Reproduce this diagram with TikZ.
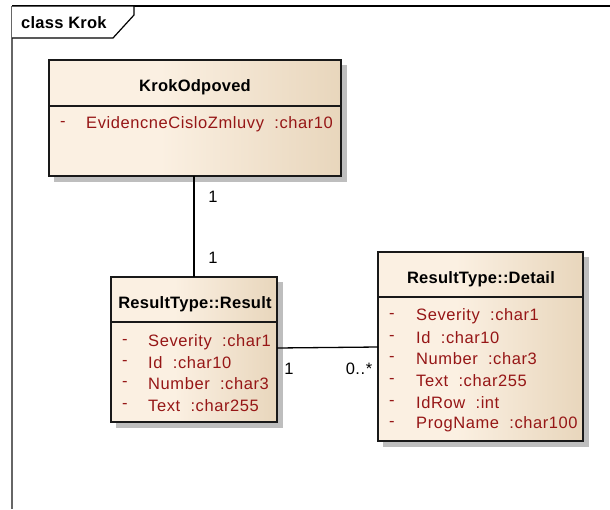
\documentclass[tikz,border=0pt]{standalone}
\usepackage{fontspec}
\setmainfont{Liberation Sans}
\newfontfamily\memberfont[LetterSpace=3.5]{Liberation Sans}
\newfontfamily\titlefont[LetterSpace=1.5]{Liberation Sans}
\definecolor{clsLight}{RGB}{251,240,226}
\definecolor{clsDark}{RGB}{232,214,188}
\definecolor{attr}{RGB}{150,22,22}
\definecolor{shade}{RGB}{190,190,190}
\pgfdeclarehorizontalshading{clsfill}{100bp}{color(0bp)=(clsLight); color(25bp)=(clsLight); color(44bp)=(clsLight); color(75bp)=(clsDark); color(100bp)=(clsDark)}
\tikzset{
  frameline/.style={line width=1.2pt, black},
  classbox/.style={draw=black!90, line width=1.6pt, shading=clsfill},
  classshadow/.style={fill=shade},
  title/.style={font=\titlefont\fontsize{16.5}{18}\selectfont\bfseries, anchor=center, inner sep=0pt},
  member/.style={font=\memberfont\fontsize{16.5}{18}\selectfont, text=attr, anchor=west, inner sep=0pt},
  mult/.style={font=\memberfont\fontsize{16.5}{18}\selectfont, anchor=center, inner sep=0pt},
  assoc/.style={line width=1.3pt, black},
}
\begin{document}
\begin{tikzpicture}[x=1pt, y=-1pt]
\useasboundingbox (0,0) rectangle (610,509);
\fill[white] (0,0) rectangle (610,509);

% diagram frame and its name tab
\draw[line width=1.3pt, black!60] (12,6) -- (12,509);
\draw[frameline] (12,6) -- (610,6);
\draw[frameline, fill=white] (12,6) -- (134,6) -- (134,15) -- (113,38) -- (12,38);
\node[title, anchor=west] (frametitle) at (21,23) {class Krok};

% class KrokOdpoved
\fill[classshadow] (54,65) rectangle (347,182);
\path[classbox] (49,60) rectangle (341,176);
\draw[line width=1.2pt, black!90] (49,106) -- (341,106);
\coordinate (krokBot) at (194,176);
\node[title] (krokTitle) at (195,87) {KrokOdpoved};
\node[member] (krokDash) at (60,124) {-};
\node[member] (krokA1) at (86,124) {EvidencneCisloZmluvy\ \ :char10};

% class ResultType::Result
\fill[classshadow] (116,282) rectangle (283,428);
\path[classbox] (111,277) rectangle (277,422);
\draw[line width=1.2pt, black!90] (111,322) -- (277,322);
\coordinate (resTop) at (194,277);
\coordinate (resRight) at (277,348);
\node[title] (resTitle) at (195,304) {ResultType::Result};
\foreach \y/\t [count=\i] in {342/Severity\ \ :char1, 363/Id\ \ :char10, 384/Number\ \ :char3, 406/Text\ \ :char255} {
  \node[member] (resDash\i) at (122,\y) {-};
  \node[member] (resA\i) at (148,\y) {\t};
}

% class ResultType::Detail
\fill[classshadow] (383,257) rectangle (589,447);
\path[classbox] (378,252) rectangle (583,441);
\draw[line width=1.2pt, black!90] (378,297) -- (583,297);
\coordinate (detLeft) at (378,347);
\node[title] (detTitle) at (481,279) {ResultType::Detail};
\foreach \y/\t [count=\i] in {316/Severity\ \ :char1, 338/Id\ \ :char10, 359/Number\ \ :char3, 381/Text\ \ :char255, 403/IdRow\ \ :int, 424/ProgName\ \ :char100} {
  \node[member] (detDash\i) at (389,\y) {-};
  \node[member] (detA\i) at (416,\y) {\t};
}

% associations
\draw[assoc] (krokBot) -- (resTop);
\draw[assoc] (resRight) -- (detLeft);

% multiplicities
\node[mult] (m1) at (213,197) {1};
\node[mult] (m2) at (213,258) {1};
\node[mult] (m3) at (289,369) {1};
\node[mult] (m4) at (359,369) {0..*};
\end{tikzpicture}
\end{document}
